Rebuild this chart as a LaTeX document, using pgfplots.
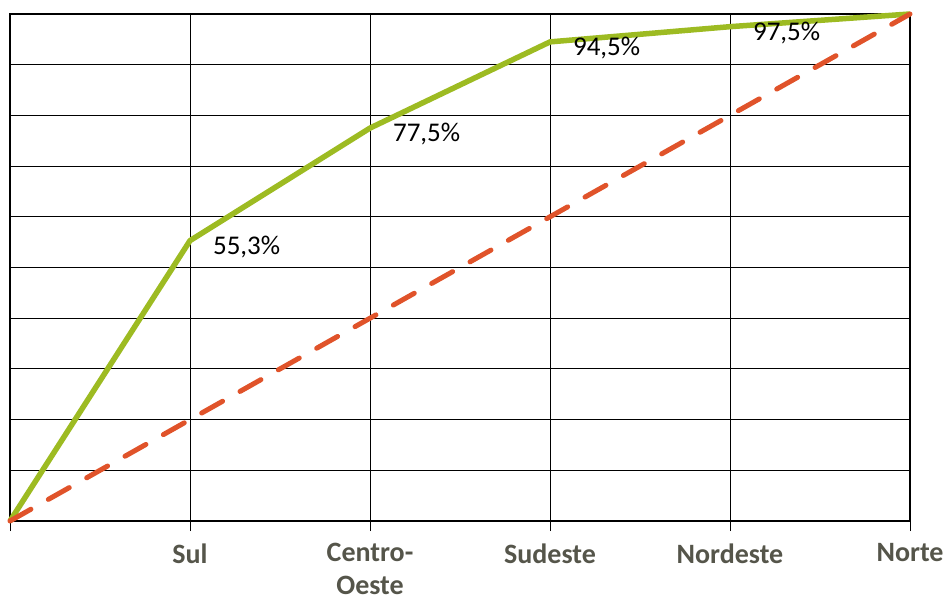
\documentclass[border=0pt]{standalone}
\usepackage{pgfplots}
\pgfplotsset{compat=1.18}
\usepackage{fontspec}
\setmainfont{Carlito}
\definecolor{lgreen}{HTML}{9DBB22}
\definecolor{lorange}{HTML}{E0532A}
\definecolor{tickgray}{HTML}{55554A}
\begin{document}
\begin{tikzpicture}
\begin{axis}[
  at={(0pt,0pt)}, anchor=south west,
  scale only axis,
  width=900pt, height=507pt,
  xmin=0, xmax=5, ymin=0, ymax=100,
  xtick={0,1,2,3,4,5},
  xticklabels={,Sul,{Centro-\\Oeste},Sudeste,Nordeste,Norte},
  xticklabel style={font=\fontsize{28}{33}\selectfont\bfseries, text=tickgray, align=center, yshift=-9pt},
  ytick={0,10,...,100},
  yticklabels={},
  ymajorgrids, xmajorgrids,
  grid style={black, line width=1pt},
  axis line style={black, line width=1.5pt},
  tick style={black, line width=1pt},
  major tick length=10pt,
  xtick pos=bottom, xtick align=outside,
  ytick style={draw=none},
  clip=false,
]
\addplot[lgreen, line width=5.5pt, line join=round,
  nodes near coords, point meta=explicit symbolic,
  every node near coord/.style={anchor=west, xshift=17pt, yshift=-6pt, text=black, font=\fontsize{27}{30}\selectfont}]
  table[meta=lab] {
x y lab
0 0 {}
1 55.3 {55,3\%}
2 77.5 {77,5\%}
3 94.5 {94,5\%}
4 97.5 {97,5\%}
5 100 {}
};
\addplot[lorange, line width=5pt, line cap=round, dash pattern=on 24pt off 20pt]
  coordinates {(0,0) (1,20) (2,40) (3,60) (4,80) (5,100)};
\end{axis}
\pgfresetboundingbox
\path (-10pt,-82pt) rectangle (937pt,521pt);
\end{tikzpicture}
\end{document}
